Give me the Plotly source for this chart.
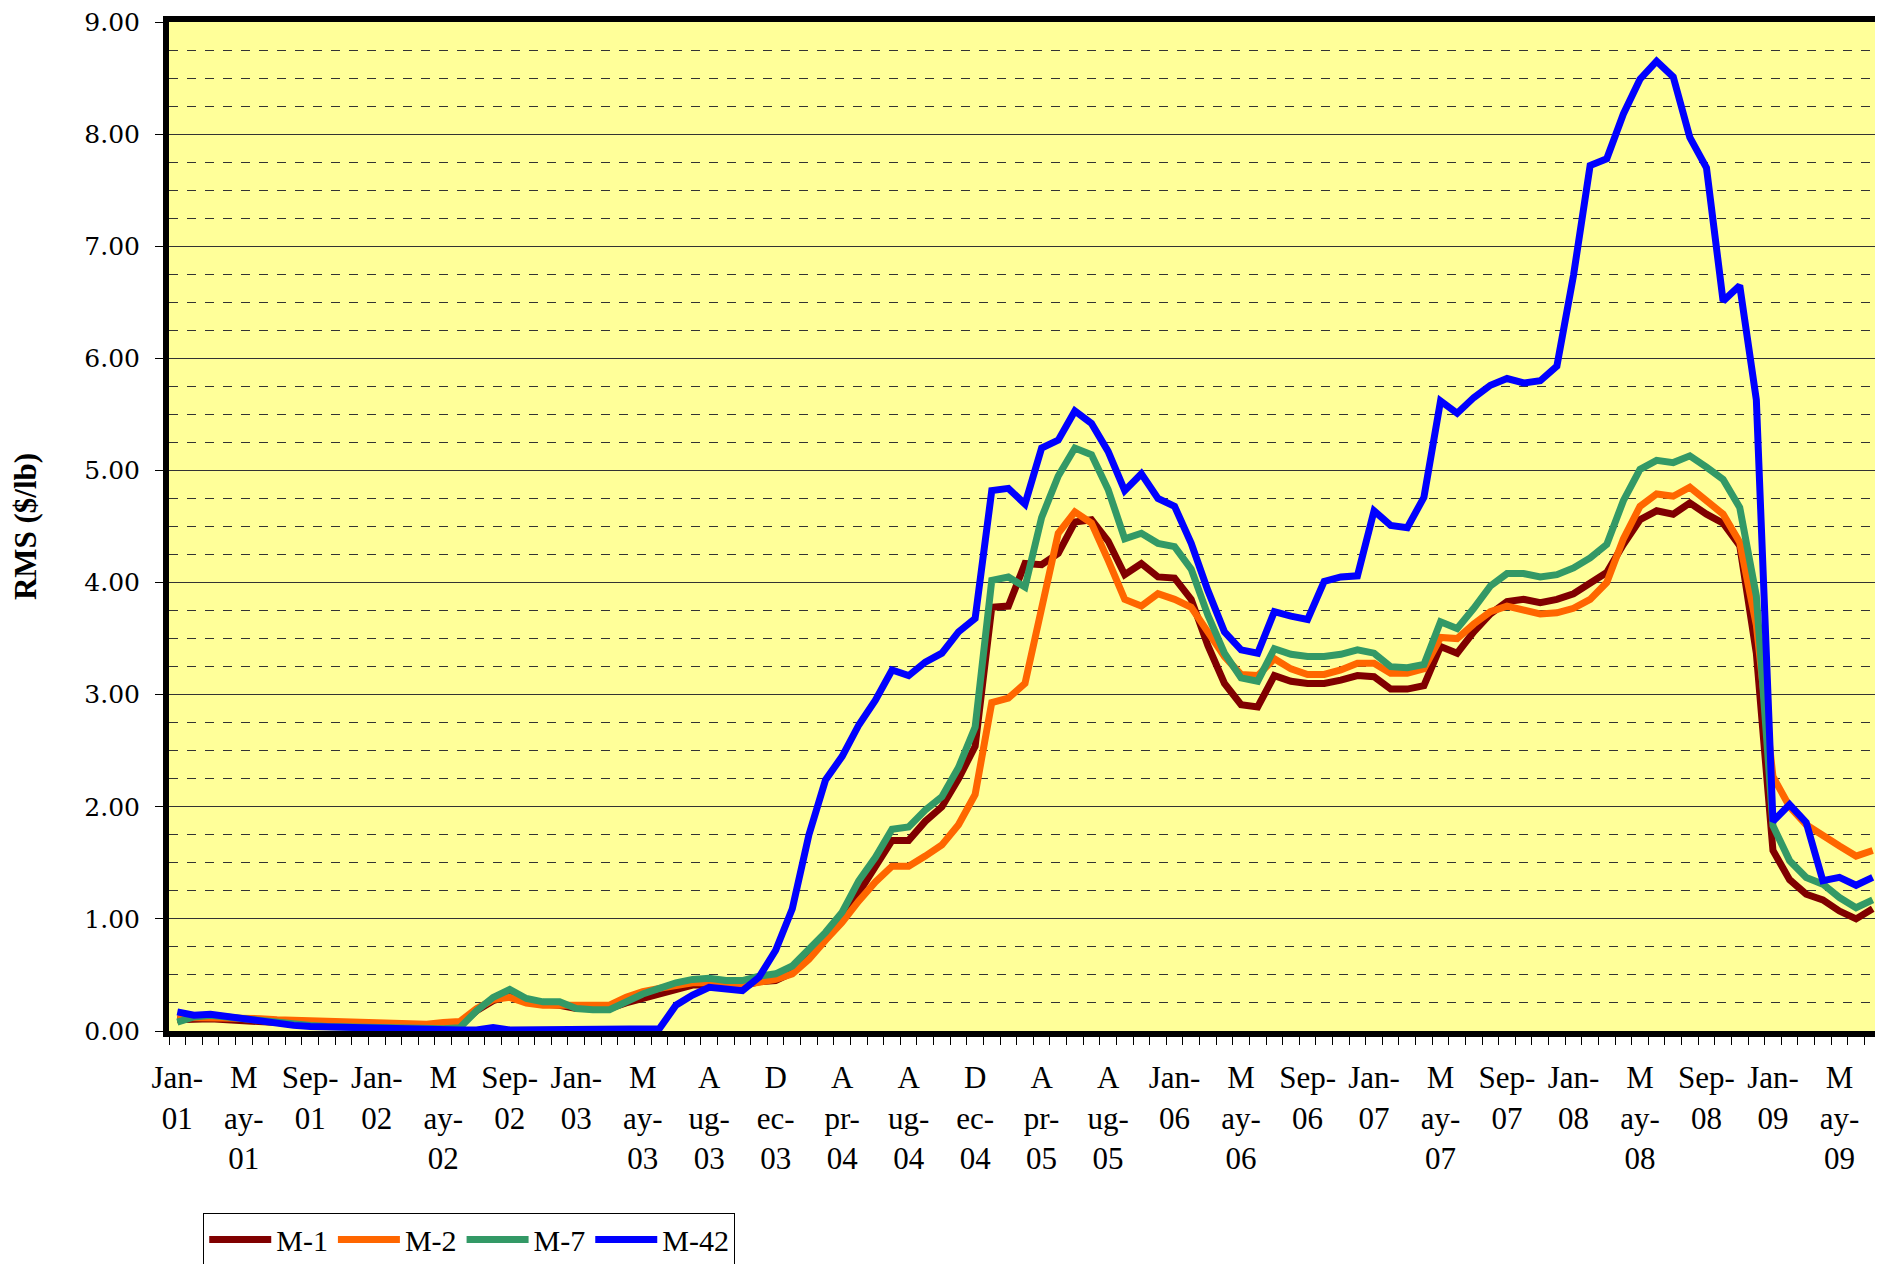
import plotly.graph_objects as go

months = [
    "Jan-01", "Feb-01", "Mar-01", "Apr-01", "May-01", "Jun-01", "Jul-01", "Aug-01", "Sep-01", "Oct-01", "Nov-01", "Dec-01",
    "Jan-02", "Feb-02", "Mar-02", "Apr-02", "May-02", "Jun-02", "Jul-02", "Aug-02", "Sep-02", "Oct-02", "Nov-02", "Dec-02",
    "Jan-03", "Feb-03", "Mar-03", "Apr-03", "May-03", "Jun-03", "Jul-03", "Jul-03 (2)", "Aug-03", "Sep-03", "Oct-03", "Nov-03", "Dec-03",
    "Jan-04", "Feb-04", "Mar-04", "Apr-04", "May-04", "Jun-04", "Jul-04", "Aug-04", "Sep-04", "Oct-04", "Nov-04", "Dec-04",
    "Jan-05", "Feb-05", "Mar-05", "Apr-05", "May-05", "Jun-05", "Jul-05", "Aug-05", "Sep-05", "Oct-05", "Nov-05",
    "Jan-06", "Feb-06", "Mar-06", "Apr-06", "May-06", "Jun-06", "Jul-06", "Aug-06", "Sep-06", "Oct-06", "Nov-06", "Dec-06",
    "Jan-07", "Feb-07", "Mar-07", "Apr-07", "May-07", "Jun-07", "Jul-07", "Aug-07", "Sep-07", "Oct-07", "Nov-07", "Dec-07",
    "Jan-08", "Feb-08", "Mar-08", "Apr-08", "May-08", "Jun-08", "Jul-08", "Aug-08", "Sep-08", "Oct-08", "Nov-08", "Dec-08",
    "Jan-09", "Feb-09", "Mar-09", "Apr-09", "May-09", "Jun-09", "Jul-09",
]

tick_labels = [
    "Jan-<br>01", "M<br>ay-<br>01", "Sep-<br>01", "Jan-<br>02", "M<br>ay-<br>02", "Sep-<br>02",
    "Jan-<br>03", "M<br>ay-<br>03", "A<br>ug-<br>03", "D<br>ec-<br>03", "A<br>pr-<br>04", "A<br>ug-<br>04",
    "D<br>ec-<br>04", "A<br>pr-<br>05", "A<br>ug-<br>05", "Jan-<br>06", "M<br>ay-<br>06", "Sep-<br>06",
    "Jan-<br>07", "M<br>ay-<br>07", "Sep-<br>07", "Jan-<br>08", "M<br>ay-<br>08", "Sep-<br>08",
    "Jan-<br>09", "M<br>ay-<br>09",
]

m1 = [0.10, 0.11, 0.11, 0.10, 0.09, 0.08, 0.07, 0.06, 0.05, 0.045, 0.04, 0.035, 0.03, 0.03, 0.03, 0.03, 0.04, 0.05, 0.18, 0.27, 0.32, 0.27, 0.24,
      0.23, 0.20, 0.20, 0.20, 0.25, 0.29, 0.33, 0.38, 0.41, 0.41, 0.41, 0.40, 0.44, 0.45, 0.52, 0.67, 0.84, 1.00, 1.24, 1.46,
      1.70, 1.70, 1.87, 2.00, 2.25, 2.54, 3.78, 3.79, 4.17, 4.16, 4.26, 4.54, 4.56, 4.37, 4.07, 4.17, 4.05, 4.04, 3.85, 3.44, 3.10, 2.91, 2.89,
      3.17, 3.12, 3.10, 3.10, 3.13, 3.17, 3.16, 3.05, 3.05, 3.08, 3.43, 3.37, 3.56, 3.72,
      3.83, 3.85, 3.82, 3.85, 3.90, 4.00, 4.09, 4.34, 4.56, 4.64, 4.61, 4.71, 4.61, 4.53, 4.33, 3.37,
      1.61, 1.35, 1.22, 1.17, 1.07, 1.00, 1.09]

m2 = [0.12, 0.12, 0.12, 0.12, 0.11, 0.11, 0.10, 0.095, 0.09, 0.08, 0.075, 0.07, 0.065, 0.06, 0.055, 0.06, 0.075, 0.085, 0.20, 0.28, 0.30, 0.25, 0.23,
      0.23, 0.23, 0.22, 0.23, 0.30, 0.35, 0.38, 0.41, 0.43, 0.43, 0.41, 0.41, 0.44, 0.46, 0.51, 0.64, 0.81, 0.97, 1.16, 1.33,
      1.47, 1.47, 1.56, 1.66, 1.84, 2.11, 2.93, 2.97, 3.10, 3.74, 4.44, 4.63, 4.53, 4.20, 3.85, 3.79, 3.90, 3.85, 3.78, 3.56, 3.34, 3.18, 3.17,
      3.32, 3.23, 3.18, 3.18, 3.22, 3.28, 3.28, 3.19, 3.19, 3.23, 3.51, 3.50, 3.63, 3.74,
      3.79, 3.76, 3.72, 3.73, 3.77, 3.85, 4.00, 4.39, 4.68, 4.79, 4.77, 4.85, 4.73, 4.61, 4.36, 3.62,
      2.27, 2.00, 1.84, 1.74, 1.65, 1.56, 1.61]

m7 = [0.08, 0.125, 0.14, 0.125, 0.095, 0.08, 0.07, 0.06, 0.05, 0.04, 0.035, 0.03, 0.025, 0.02, 0.02, 0.02, 0.02, 0.03, 0.18, 0.30, 0.37, 0.29, 0.26,
      0.26, 0.20, 0.19, 0.19, 0.26, 0.33, 0.38, 0.43, 0.46, 0.47, 0.45, 0.45, 0.49, 0.51, 0.58, 0.72, 0.88, 1.06, 1.34, 1.55,
      1.80, 1.82, 1.97, 2.09, 2.35, 2.71, 4.02, 4.05, 3.96, 4.58, 4.95, 5.20, 5.14, 4.83, 4.39, 4.44, 4.35, 4.32, 4.12, 3.71, 3.37, 3.15, 3.12,
      3.41, 3.36, 3.34, 3.34, 3.36, 3.40, 3.37, 3.25, 3.24, 3.27, 3.65, 3.59, 3.77, 3.97,
      4.08, 4.08, 4.05, 4.07, 4.13, 4.22, 4.34, 4.73, 5.01, 5.09, 5.07, 5.13, 5.03, 4.92, 4.67, 3.88,
      1.83, 1.52, 1.37, 1.31, 1.19, 1.10, 1.17]

m42 = [0.17, 0.14, 0.15, 0.13, 0.10, 0.09, 0.07, 0.05, 0.04, 0.035, 0.03, 0.025, 0.02, 0.015, 0.01, 0.01, 0.01, 0.01, 0.01, 0.03, 0.01, 0.01, 0.01,
       0.01, 0.01, 0.01, 0.01, 0.01, 0.02, 0.02,
       0.23, 0.32, 0.39, 0.38, 0.36, 0.48, 0.72, 1.09, 1.75, 2.24, 2.45, 2.73, 2.95, 3.22, 3.17, 3.29, 3.37,
       3.56, 3.68, 4.82, 4.84, 4.70, 5.20, 5.27, 5.53, 5.42, 5.17, 4.82, 4.97, 4.75, 4.68, 4.35, 3.93, 3.56, 3.40, 3.37,
       3.74, 3.70, 3.67, 4.01, 4.05, 4.06, 4.64, 4.51, 4.49, 4.76, 5.62, 5.51, 5.65, 5.76,
       5.82, 5.78, 5.80, 5.93, 6.74, 7.72, 7.78, 8.18, 8.49, 8.65, 8.51, 7.97, 7.70, 6.51, 6.65, 5.63,
       1.87, 2.02, 1.86, 1.34, 1.37, 1.30, 1.37]

series = [
    ("M-1", m1, "#800000"),
    ("M-2", m2, "#FF6600"),
    ("M-7", m7, "#339966"),
    ("M-42", m42, "#0000FF"),
]

fig = go.Figure()
for name, vals, color in series:
    fig.add_trace(go.Scatter(x=months, y=vals, mode="lines", name=name,
                             line=dict(color=color, width=7)))

ticktext = [tick_labels[i // 4] if i % 4 == 0 else "" for i in range(len(months))]

serif = "Liberation Serif, Times New Roman, serif"

fig.update_layout(
    width=1883, height=1264,
    margin=dict(l=161, r=10, t=14, b=241, autoexpand=False),
    paper_bgcolor="white",
    plot_bgcolor="#FFFF99",
    showlegend=True,
    legend=dict(
        orientation="h", x=0.02, xanchor="left", y=-0.180, yanchor="top",
        bgcolor="white", bordercolor="black", borderwidth=1,
        font=dict(family=serif, size=30, color="black"),
        itemwidth=62,
    ),
    xaxis=dict(
        type="category",
        categoryorder="array", categoryarray=months,
        range=[-0.5, len(months) - 0.5],
        tickmode="array", tickvals=months, ticktext=ticktext,
        tickson="boundaries",
        ticks="outside", ticklen=8, tickwidth=1, tickcolor="black",
        tickangle=0,
        tickfont=dict(family=serif, size=31, color="black"),
        ticklabelstandoff=14,
        showgrid=False, zeroline=False,
        showline=True, linecolor="black", linewidth=6, mirror=True,
    ),
    yaxis=dict(
        range=[0, 9], dtick=1, tick0=0, tickformat=".2f",
        ticks="outside", ticklen=8, tickwidth=1, tickcolor="black",
        tickfont=dict(family="DejaVu Serif, serif", size=25, color="black"),
        ticklabelstandoff=10,
        ticklabeloverflow="allow",
        showgrid=True, gridcolor="#333333", gridwidth=1,
        minor=dict(dtick=0.25, showgrid=True, gridcolor="#333333", gridwidth=1, griddash="dash"),
        zeroline=False,
        showline=True, linecolor="black", linewidth=6, mirror=True,
        title=dict(text="<b>RMS ($/lb)</b>", standoff=46,
                   font=dict(family=serif, size=31, color="black")),
    ),
)

fig.write_html("out.html")
